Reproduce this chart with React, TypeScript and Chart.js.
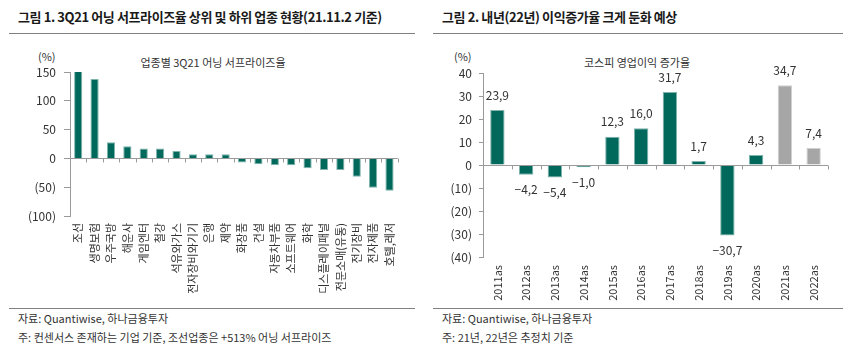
import React, { useEffect, useRef } from "react";
import { Chart, registerables } from "chart.js";

Chart.register(...registerables);

const FONT = "'Noto Sans CJK KR', 'Noto Sans', sans-serif";

// ---- Figure 1 data ----
const sectorLabels = [
  "조선", "생명보험", "우주국방", "해운사", "게임엔터", "철강", "석유와가스",
  "전자장비와기기", "은행", "제약", "화장품", "건설", "자동차부품", "소프트웨어",
  "화학", "디스플레이패널", "전문소매(유통)", "전기장비", "전자제품", "호텔,레저",
];
const surpriseValues = [513, 138, 28, 21, 17, 17, 13, 7, 7, 7, -7, -10, -12, -12, -17, -20, -20, -32, -51, -56];
const leftAxisMin = -100;
const leftAxisMax = 150;
const leftAxisStep = 50;

// ---- Figure 2 data ----
const yearLabels = [
  "2011as", "2012as", "2013as", "2014as", "2015as", "2016as",
  "2017as", "2018as", "2019as", "2020as", "2021as", "2022as",
];
const growthValues = [23.9, -4.2, -5.4, -1.0, 12.3, 16.0, 31.7, 1.7, -30.7, 4.3, 34.7, 7.4];
const estimateFlags = [false, false, false, false, false, false, false, false, false, false, true, true];
const rightAxisMin = -40;
const rightAxisMax = 40;
const rightAxisStep = 10;

const TEAL = "#00695C";
const TEAL_EDGE = "#7fb3ab";
const GRAY = "#a6a6a6";
const GRAY_EDGE = "#d0d0d0";
const AXIS = "#9a9a9a";
const TEXT = "#333333";

const parenFmt = (v: number) => (v < 0 ? `(${-v})` : `${v}`);
const commaFmt = (v: number) => (v < 0 ? "\u2212" : "") + Math.abs(v).toFixed(1).replace(".", ",");

const zeroAxisPlugin = {
  id: "zeroAxis",
  afterDatasetsDraw(chart: any) {
    const { ctx, chartArea } = chart;
    const x = chart.scales.x;
    const y = chart.scales.y;
    const y0 = Math.round(y.getPixelForValue(0)) + 0.5;
    const n = chart.data.labels.length;
    ctx.save();
    ctx.strokeStyle = AXIS;
    ctx.lineWidth = 1;
    ctx.beginPath();
    ctx.moveTo(chartArea.left, y0);
    ctx.lineTo(chartArea.right, y0);
    for (let i = 1; i <= n; i++) {
      const px = Math.round(x.left + (i * x.width) / n) + 0.5;
      ctx.moveTo(px, y0);
      ctx.lineTo(px, y0 + 4);
    }
    ctx.stroke();
    ctx.restore();
  },
};

const valueLabelPlugin = {
  id: "valueLabels",
  afterDatasetsDraw(chart: any) {
    const { ctx } = chart;
    const meta = chart.getDatasetMeta(0);
    const data = chart.data.datasets[0].data as number[];
    ctx.save();
    ctx.font = `12px ${FONT}`;
    ctx.fillStyle = TEXT;
    ctx.textAlign = "center";
    ctx.textBaseline = "middle";
    meta.data.forEach((bar: any, i: number) => {
      const v = data[i];
      const py = v >= 0 ? bar.y - 15 : bar.y + 15;
      ctx.fillText(commaFmt(v), bar.x, py);
    });
    ctx.restore();
  },
};

function BarChart(props: {
  labels: string[];
  values: number[];
  colors: string[];
  edges: string[];
  min: number;
  max: number;
  step: number;
  width: number;
  height: number;
  yWidth: number;
  xHeight: number;
  padTop: number;
  padRight: number;
  tickLen: number;
  tickPad: number;
  xPad: number;
  tickFmt: (v: number) => string;
  withLabels: boolean;
}) {
  const ref = useRef<HTMLCanvasElement | null>(null);
  useEffect(() => {
    if (!ref.current) return;
    const plugins: any[] = [zeroAxisPlugin];
    if (props.withLabels) plugins.push(valueLabelPlugin);
    const chart = new Chart(ref.current, {
      type: "bar",
      data: {
        labels: props.labels,
        datasets: [
          {
            data: props.values,
            backgroundColor: props.colors,
            borderColor: props.edges,
            borderWidth: 1,
            barPercentage: 0.5,
            categoryPercentage: 1,
          },
        ],
      },
      options: {
        responsive: false,
        animation: false,
        devicePixelRatio: 1,
        layout: { padding: { top: props.padTop, right: props.padRight, left: 0, bottom: 0 } },
        plugins: { legend: { display: false }, tooltip: { enabled: false }, title: { display: false } },
        scales: {
          x: {
            grid: { display: false, drawTicks: false },
            border: { display: false },
            ticks: {
              autoSkip: false,
              minRotation: 90,
              maxRotation: 90,
              padding: props.xPad,
              color: TEXT,
              font: { family: FONT, size: 11 },
            },
            afterFit: (s: any) => {
              s.height = props.xHeight;
            },
          },
          y: {
            min: props.min,
            max: props.max,
            grid: {
              drawOnChartArea: false,
              drawTicks: true,
              tickLength: props.tickLen,
              tickColor: AXIS,
            },
            border: { display: true, color: AXIS },
            ticks: {
              stepSize: props.step,
              padding: props.tickPad,
              color: TEXT,
              font: { family: FONT, size: 12 },
              callback: (v: any) => props.tickFmt(Number(v)),
            },
            afterFit: (s: any) => {
              s.width = props.yWidth;
            },
          },
        },
      },
      plugins,
    } as any);
    return () => chart.destroy();
  }, []);
  return <canvas ref={ref} width={props.width} height={props.height} style={{ width: props.width, height: props.height, display: "block" }} />;
}

const abs = (l: number, t: number, extra: any = {}) => ({ position: "absolute" as const, left: l, top: t, ...extra });

export default function App() {
  const leftColors = surpriseValues.map(() => TEAL);
  const leftEdges = surpriseValues.map(() => TEAL_EDGE);
  const rightColors = estimateFlags.map((e) => (e ? GRAY : TEAL));
  const rightEdges = estimateFlags.map((e) => (e ? GRAY_EDGE : TEAL_EDGE));
  const headStyle = { fontFamily: FONT, fontSize: 13, fontWeight: 700, color: "#1a1a1a", whiteSpace: "nowrap" as const, lineHeight: "18px", letterSpacing: "-0.4px" };
  const noteStyle = { fontFamily: FONT, fontSize: 11, color: "#333", whiteSpace: "nowrap" as const, lineHeight: "14px" };
  const titleStyle = { fontFamily: FONT, fontSize: 11, color: "#333", whiteSpace: "nowrap" as const, lineHeight: "14px" };
  return (
    <div style={{ position: "absolute", left: 0, top: 0, width: 848, height: 353, background: "#fff", overflow: "hidden" }}>
      {/* Left panel */}
      <div style={abs(18, 8, headStyle)}>그림 1. 3Q21 어닝 서프라이즈율 상위 및 하위 업종 현황(21.11.2 기준)</div>
      <div style={abs(9, 33, { width: 406, height: 1, background: "#808080" })} />
      <div style={abs(38, 49, titleStyle)}>(%)</div>
      <div style={abs(88, 55, { ...titleStyle, width: 250, textAlign: "center" })}>업종별 3Q21 어닝 서프라이즈율</div>
      <div style={abs(10, 40)}>
        <BarChart
          labels={sectorLabels}
          values={surpriseValues}
          colors={leftColors}
          edges={leftEdges}
          min={leftAxisMin}
          max={leftAxisMax}
          step={leftAxisStep}
          width={400}
          height={265}
          yWidth={60}
          xHeight={89}
          padTop={32}
          padRight={12}
          tickLen={6}
          tickPad={8}
          xPad={7}
          tickFmt={parenFmt}
          withLabels={false}
        />
      </div>
      <div style={abs(9, 308, { width: 406, height: 1, background: "#808080" })} />
      <div style={abs(18, 311, noteStyle)}>자료: Quantiwise, 하나금융투자</div>
      <div style={abs(18, 330, noteStyle)}>주: 컨센서스 존재하는 기업 기준, 조선업종은 +513% 어닝 서프라이즈</div>

      {/* Right panel */}
      <div style={abs(442, 8, headStyle)}>그림 2. 내년(22년) 이익증가율 크게 둔화 예상</div>
      <div style={abs(433, 33, { width: 410, height: 1, background: "#808080" })} />
      <div style={abs(454, 49, titleStyle)}>(%)</div>
      <div style={abs(512, 55, { ...titleStyle, width: 250, textAlign: "center" })}>코스피 영업이익 증가율</div>
      <div style={abs(434, 40)}>
        <BarChart
          labels={yearLabels}
          values={growthValues}
          colors={rightColors}
          edges={rightEdges}
          min={rightAxisMin}
          max={rightAxisMax}
          step={rightAxisStep}
          width={406}
          height={265}
          yWidth={49}
          xHeight={48}
          padTop={33}
          padRight={12}
          tickLen={4}
          tickPad={7}
          xPad={8}
          tickFmt={parenFmt}
          withLabels={true}
        />
      </div>
      <div style={abs(433, 308, { width: 410, height: 1, background: "#808080" })} />
      <div style={abs(442, 311, noteStyle)}>자료: Quantiwise, 하나금융투자</div>
      <div style={abs(442, 330, noteStyle)}>주: 21년, 22년은 추정치 기준</div>
    </div>
  );
}
